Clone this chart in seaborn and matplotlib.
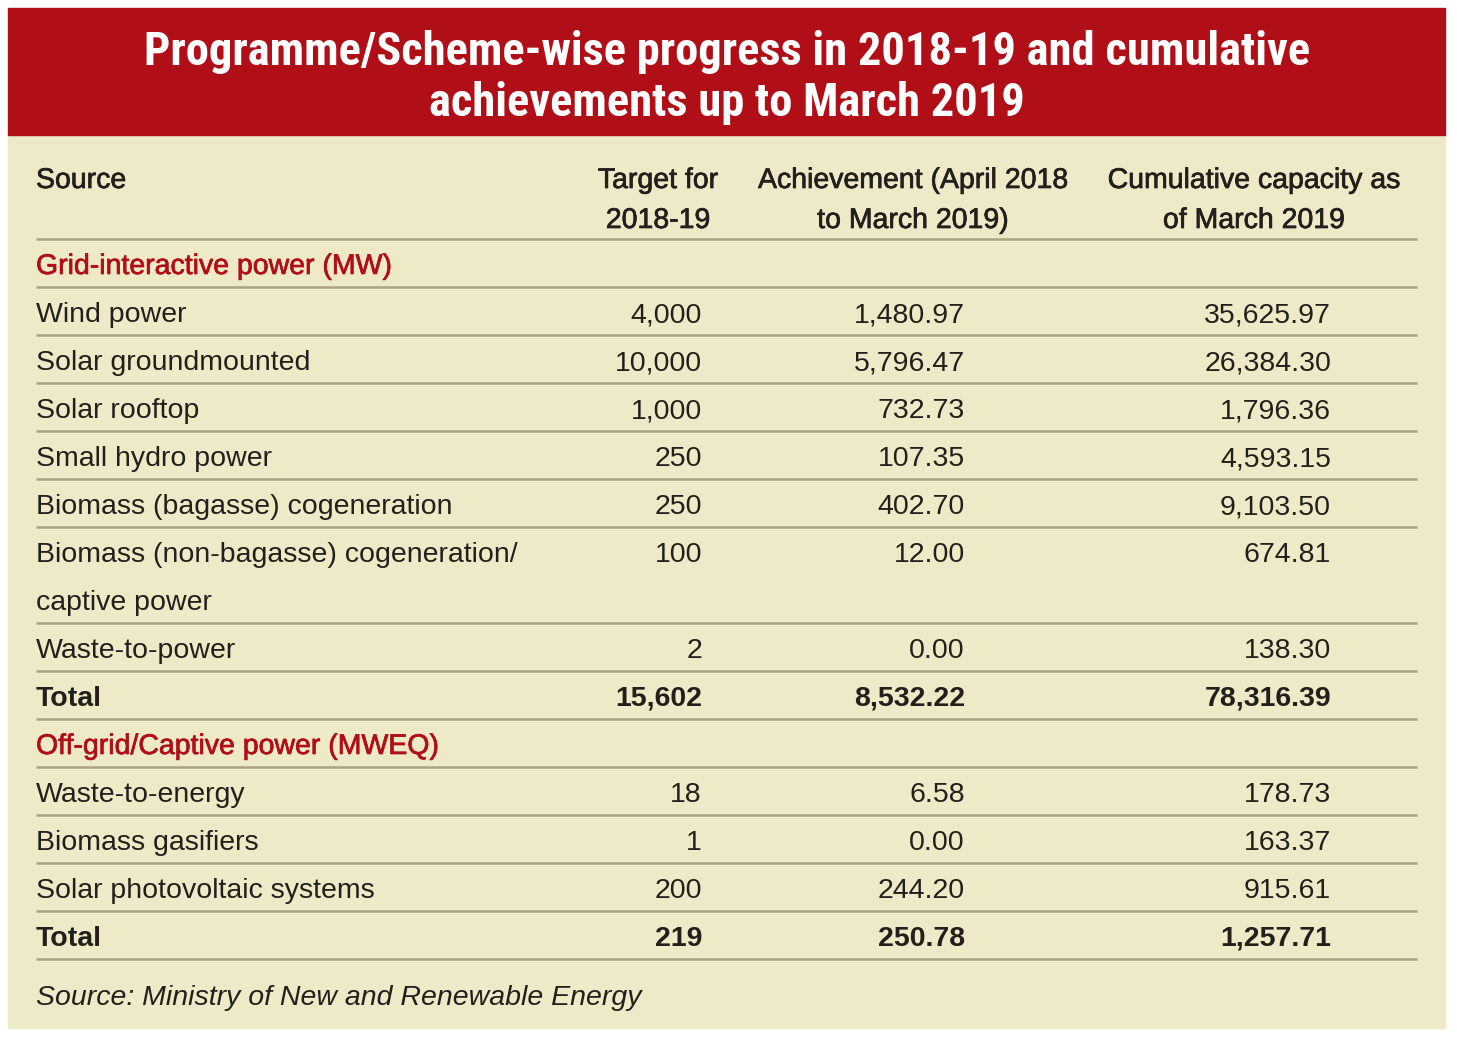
import matplotlib
matplotlib.use("Agg")
import matplotlib.pyplot as plt
import matplotlib.patheffects as pe
import seaborn as sns
from matplotlib import font_manager

sns.set_theme(style="white")
plt.rcParams["font.family"] = ["Liberation Sans", "DejaVu Sans"]

title_lines = ["Programme/Scheme-wise progress in 2018-19 and cumulative",
               "achievements up to March 2019"]
col_headers = ["Source", "Target for\n2018-19", "Achievement (April 2018\nto March 2019)",
               "Cumulative capacity as\nof March 2019"]

grid_label = "Grid-interactive power (MW)"
grid_sources = ["Wind power", "Solar groundmounted", "Solar rooftop", "Small hydro power",
                "Biomass (bagasse) cogeneration",
                "Biomass (non-bagasse) cogeneration/\ncaptive power", "Waste-to-power"]
grid_target = ["4,000", "10,000", "1,000", "250", "250", "100", "2"]
grid_achieved = ["1,480.97", "5,796.47", "732.73", "107.35", "402.70", "12.00", "0.00"]
grid_cumulative = ["35,625.97", "26,384.30", "1,796.36", "4,593.15", "9,103.50", "674.81", "138.30"]
grid_total = ["Total", "15,602", "8,532.22", "78,316.39"]

off_label = "Off-grid/Captive power (MWEQ)"
off_sources = ["Waste-to-energy", "Biomass gasifiers", "Solar photovoltaic systems"]
off_target = ["18", "1", "200"]
off_achieved = ["6.58", "0.00", "244.20"]
off_cumulative = ["178.73", "163.37", "915.61"]
off_total = ["Total", "219", "250.78", "1,257.71"]

note = "Source: Ministry of New and Renewable Energy"

RED = "#b10f17"
BEIGE = "#eee9c7"
INK = "#231f1c"
RULE = "#a9a47f"
FS = 20.5
DY = 4  # optical shift so caps sit centred in the row

fig = plt.figure(figsize=(14.57, 10.42), dpi=100)
ax = fig.add_axes([0, 0, 1, 1])
ax.set_xlim(0, 1457)
ax.set_ylim(1042, 0)
ax.axis("off")
renderer = fig.canvas.get_renderer()

# title face: among the bold latin faces installed, take the one whose cap height
# comes closest to the original (~35 px) once the first line is fitted to 1167 px
ok_families = ("DejaVu", "Liberation", "Noto Sans", "Roboto", "Open Sans", "Lato", "Inter")
best = None
for f in font_manager.fontManager.ttflist:
    if not f.name.startswith(ok_families) or "CJK" in f.name or "Mono" in f.name:
        continue
    wt = f.weight if isinstance(f.weight, int) else font_manager.weight_dict.get(f.weight, 400)
    if wt < 600 or f.style != "normal":
        continue
    fp = font_manager.FontProperties(fname=f.fname)
    t = ax.text(0, 0, title_lines[0], fontproperties=fp, fontsize=30)
    w = t.get_window_extent(renderer).width
    t.remove()
    size = 30 * 1167 / w
    h = ax.text(0, 0, "H", fontproperties=fp, fontsize=size)
    cap = h.get_window_extent(renderer).height
    h.remove()
    # window extent of "H" includes some descent padding, so compare loosely
    score = abs(cap * 0.8 - 35)
    if best is None or score < best[0]:
        best = (score, fp, size)
_, title_fp, fs_title = best

ax.add_patch(plt.Rectangle((8, 135), 1437, 893, color=BEIGE, zorder=0))
ax.add_patch(plt.Rectangle((8, 8), 1437, 127, color=RED, zorder=1))
for i, line in enumerate(title_lines):
    ax.text(727, 65 + i * 51, line, ha="center", va="baseline", color="white",
            fontproperties=title_fp, fontsize=fs_title, zorder=2)

x_src, x_t, x_a, x_c = 36, 702, 965, 1331
hdr_c = [658, 913, 1254]
medium = [pe.withStroke(linewidth=0.5, foreground=INK)]
medium_red = [pe.withStroke(linewidth=0.5, foreground=RED)]

# header
ax.text(x_src, 177 + DY, col_headers[0], ha="left", va="center", fontsize=FS, color=INK,
        path_effects=medium)
for xc, h in zip(hdr_c, col_headers[1:]):
    for j, part in enumerate(h.split("\n")):
        ax.text(xc, 177 + DY + j * 40, part, ha="center", va="center", fontsize=FS, color=INK,
                path_effects=medium)


def rule(y):
    ax.plot([36, 1417], [y, y], color=RULE, lw=1.8, solid_capstyle="butt")


def put(x, y, s, ha="left", **kw):
    ax.text(x, y + DY, s, ha=ha, va="center", fontsize=FS, color=kw.pop("color", INK), **kw)


rule(239)
pitch = 48


def section(label, sources, tgt, ach, cum, total, y):
    put(x_src, y, label, color=RED, path_effects=medium_red)
    rule(y + 24)
    y += pitch
    for s, t, a, c in zip(sources, tgt, ach, cum):
        parts = s.split("\n")
        for j, part in enumerate(parts):
            put(x_src, y + j * pitch, part)
        for xv, v in zip([x_t, x_a, x_c], [t, a, c]):
            put(xv, y, v, ha="right")
        y += pitch * len(parts)
        rule(y - 24)
    put(x_src, y, total[0], fontweight="bold")
    for xv, v in zip([x_t, x_a, x_c], total[1:]):
        put(xv, y, v, ha="right", fontweight="bold")
    rule(y + 24)
    return y + pitch


y = section(grid_label, grid_sources, grid_target, grid_achieved, grid_cumulative, grid_total, 263)
y = section(off_label, off_sources, off_target, off_achieved, off_cumulative, off_total, y)

put(x_src, 994, note, style="italic")

fig.savefig("out.png", dpi=100, facecolor="white")
